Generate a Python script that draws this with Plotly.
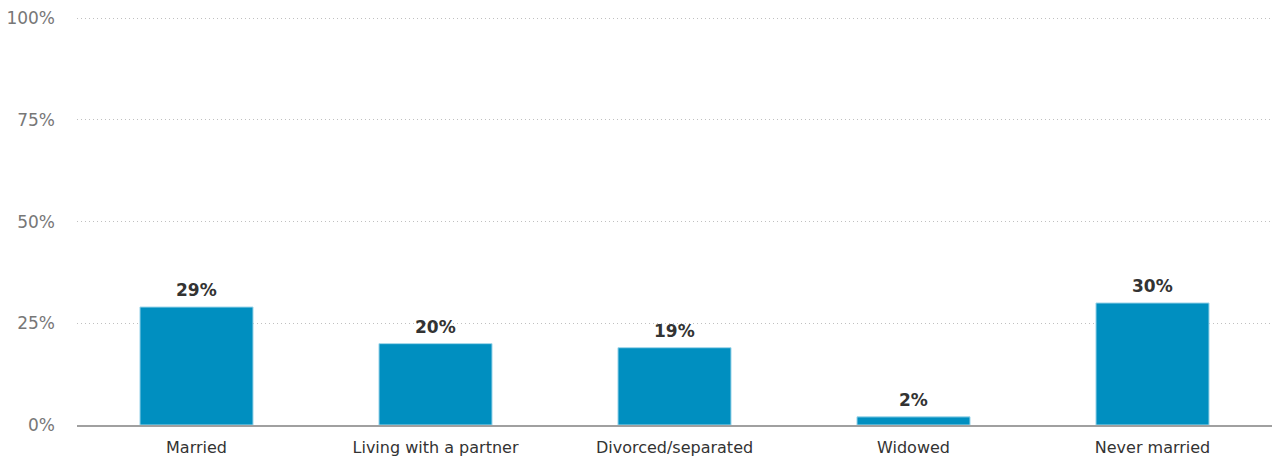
import plotly.graph_objects as go

categories = ["Married", "Living with a partner", "Divorced/separated", "Widowed", "Never married"]
values = [29, 20, 19, 2, 30]
y_ticks = [0, 25, 50, 75, 100]
y_tick_labels = ["0%", "25%", "50%", "75%", "100%"]

BAR_COLOR = "#008fc0"
FONT = "DejaVu Sans, Verdana, sans-serif"

fig = go.Figure(
    go.Bar(
        x=categories,
        y=values,
        marker=dict(color=BAR_COLOR, line=dict(color="#9fd6ea", width=1)),
        hovertemplate="%{x}: %{y}%<extra></extra>",
    )
)

# value labels sit a little higher above the bars than plotly's outside text
for cat, val in zip(categories, values):
    fig.add_annotation(
        x=cat,
        y=val,
        text=f"<b>{val}%</b>",
        showarrow=False,
        yanchor="bottom",
        yshift=5,
        font=dict(family=FONT, size=17, color="#333333"),
    )

fig.update_layout(
    width=1277,
    height=461,
    margin=dict(l=77, r=5, t=17, b=36),
    paper_bgcolor="white",
    plot_bgcolor="white",
    bargap=0.527,
    showlegend=False,
    font=dict(family=FONT),
    xaxis=dict(
        showgrid=False,
        showline=True,
        linecolor="#a0a0a0",
        linewidth=2,
        ticks="",
        ticklabelstandoff=7,
        tickfont=dict(family=FONT, size=16, color="#333333"),
    ),
    yaxis=dict(
        range=[0, 100.3],
        tickvals=y_ticks,
        ticktext=y_tick_labels,
        showgrid=True,
        gridcolor="#c0c0c0",
        griddash="1px,3px",
        gridwidth=1,
        zeroline=False,
        showline=False,
        ticks="",
        ticklabelstandoff=21,
        tickfont=dict(family=FONT, size=17, color="#777777"),
    ),
)

fig.write_html(
    "out.html",
    config={"displayModeBar": False},
    post_script="document.body.style.margin='0';",
)
